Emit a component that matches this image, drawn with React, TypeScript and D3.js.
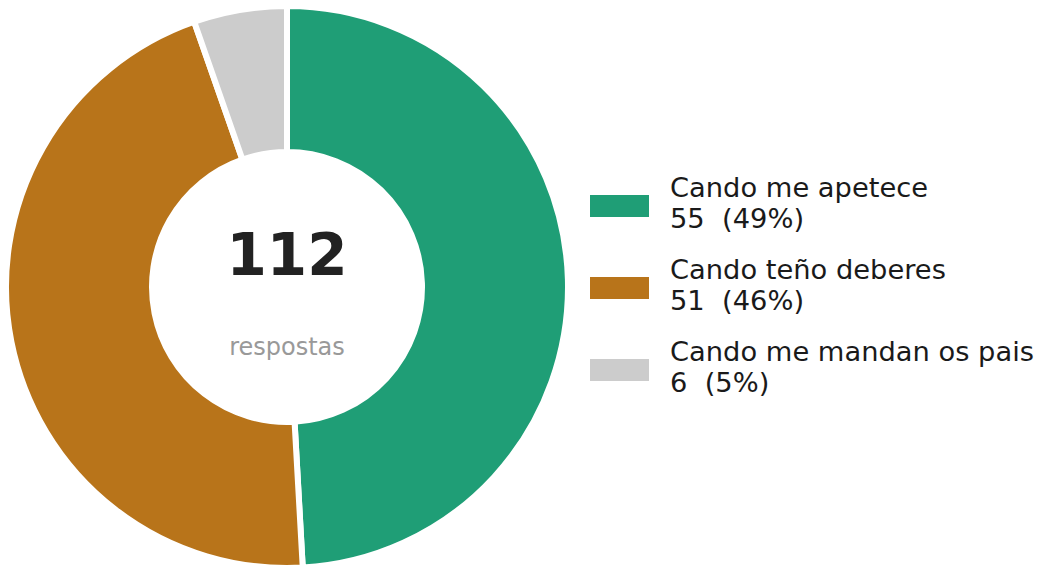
import React from "react";
import * as d3 from "d3";

const categories = ["Cando me apetece", "Cando teño deberes", "Cando me mandan os pais"];
const counts = [55, 51, 6];
const colors = ["#1f9e76", "#b8741a", "#cccccc"];
const centerLabel = "respostas";

const W = 1045;
const H = 566;

const App = () => {
  const total = d3.sum(counts);
  const cx = 287;
  const cy = 287;
  const outerR = 281;
  const innerR = 135;

  const pie = d3.pie<number>().sort(null).value(d => d);
  const arcs = pie(counts);
  const arc = d3.arc<d3.PieArcDatum<number>>().innerRadius(innerR).outerRadius(outerR);

  const legendX = 590;
  const legendY = d3.scaleLinear().domain([0, 1]).range([195, 277]);

  return (
    <svg
      width={W}
      height={H}
      style={{ position: "absolute", left: 0, top: 0, background: "#fff" }}
      fontFamily="DejaVu Sans, sans-serif"
    >
      <g transform={`translate(${cx},${cy})`}>
        {arcs.map((a, i) => (
          <path key={i} d={arc(a) || ""} fill={colors[i]} stroke="#fff" strokeWidth={6} strokeLinejoin="miter" />
        ))}
        <text x={0} y={-12} textAnchor="middle" fontSize={58} fontWeight="bold" fill="#222">
          {total}
        </text>
        <text x={0} y={68} textAnchor="middle" fontSize={24} fill="#999">
          {centerLabel}
        </text>
      </g>
      {categories.map((c, i) => {
        const y = legendY(i);
        const pct = Math.round((counts[i] / total) * 100);
        return (
          <g key={c}>
            <rect x={legendX} y={y} width={59} height={22} fill={colors[i]} />
            <text x={670} y={y + 2} fontSize={27.3} fill="#1a1a1a">
              {c}
            </text>
            <text x={670} y={y + 33} fontSize={27.3} fill="#1a1a1a" style={{ whiteSpace: "pre" }}>
              {`${counts[i]}  (${pct}%)`}
            </text>
          </g>
        );
      })}
    </svg>
  );
};

export default App;
